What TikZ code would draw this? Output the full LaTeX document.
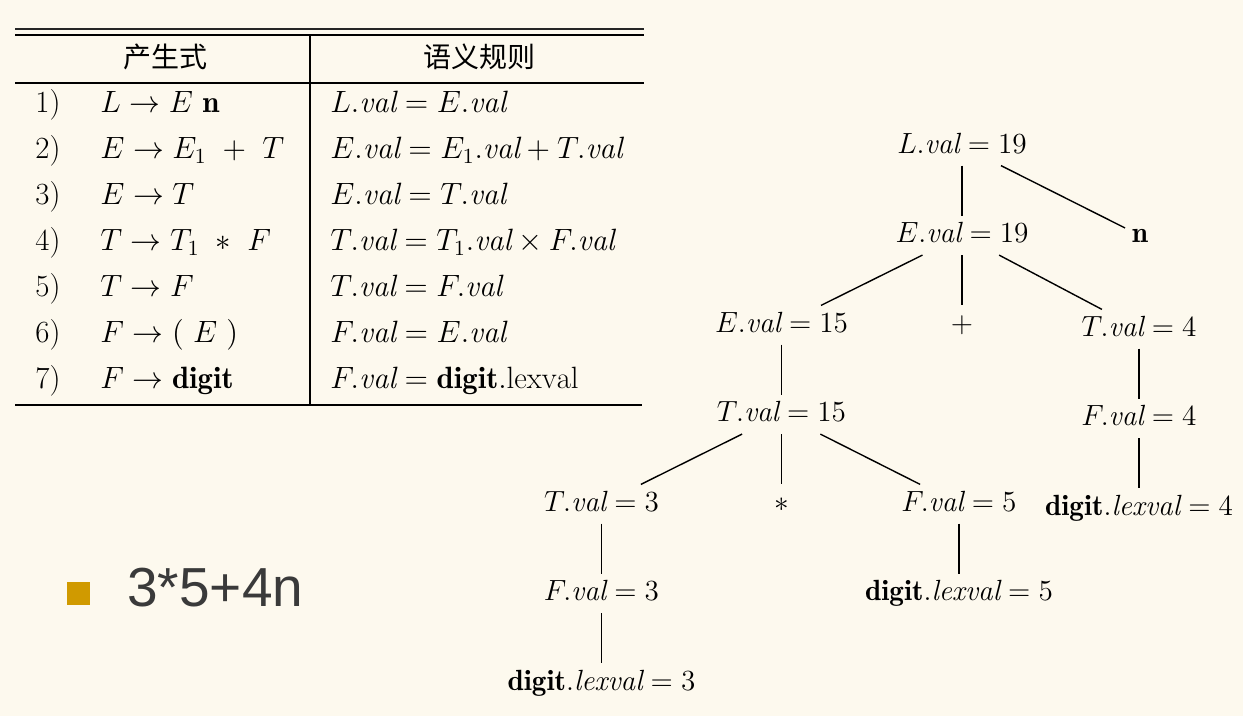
\RequirePackage{fix-cm}
\documentclass[tikz,border=0pt]{standalone}
\usepackage{amsmath}
\usepackage{amssymb}
\usepackage{fontspec}
\newfontfamily\cjk{Noto Sans CJK SC}
\newfontfamily\sansexpr{Liberation Sans}
\usepackage{tikz}
\definecolor{bgcream}{RGB}{253,249,238}
\definecolor{bulletgold}{RGB}{208,154,0}
\definecolor{exprgray}{RGB}{58,58,58}
\tikzstyle{attr} = [text height=10pt, text depth=2.8pt, inner sep=3.2pt, font=\fontsize{14.6}{17}\selectfont]
\tikzstyle{branch} = [line width=0.7pt]
\tikzstyle{cell} = [anchor=base west, inner sep=0pt, font=\fontsize{15.4}{18}\selectfont]
\tikzstyle{colhead} = [inner sep=0pt, font=\cjk\fontsize{14}{16}\selectfont]
\tikzstyle{hline} = [line width=0.8pt]

\begin{document}
\begin{tikzpicture}[x=0.5pt, y=-0.5pt, node distance=44.75pt]
	\fill [bgcream] (0,0) rectangle (1243,716);
	% table of productions and rules
	\draw [line width=0.6pt, black!85] (15,29) -- (644,29);
	\draw [line width=1pt] (15,35.5) -- (644,35.5);
	\draw [hline] (15,83) -- (644,83);
	\draw [hline] (15,405) -- (642,405);
	\draw [hline] (310,35.5) -- (310,405);
	\node (prodhead) [colhead] at (165,57) {产生式};
	\node (rulehead) [colhead] at (479,57) {语义规则};
	\node (num1) [cell] at (35,113) {1)};
	\node (prod1) [cell] at (100,113) {$L \rightarrow E\ \mathbf{n}$};
	\node (sem1) [cell] at (330,113) {$L.\mathit{val} = E.\mathit{val}$};
	\node (num2) [cell] at (35,159) {2)};
	\node (prod2) [cell] at (100,159) {$E \rightarrow E_1\ +\ T$};
	\node (sem2) [cell] at (330,159) {$E.\mathit{val} = E_1.\mathit{val} + T.\mathit{val}$};
	\node (num3) [cell] at (35,205) {3)};
	\node (prod3) [cell] at (100,205) {$E \rightarrow T$};
	\node (sem3) [cell] at (330,205) {$E.\mathit{val} = T.\mathit{val}$};
	\node (num4) [cell] at (35,251) {4)};
	\node (prod4) [cell] at (100,251) {$T \rightarrow T_1\ \ast\ F$};
	\node (sem4) [cell] at (330,251) {$T.\mathit{val} = T_1.\mathit{val} \times F.\mathit{val}$};
	\node (num5) [cell] at (35,297) {5)};
	\node (prod5) [cell] at (100,297) {$T \rightarrow F$};
	\node (sem5) [cell] at (330,297) {$T.\mathit{val} = F.\mathit{val}$};
	\node (num6) [cell] at (35,343) {6)};
	\node (prod6) [cell] at (100,343) {$F \rightarrow (\ E\ )$};
	\node (sem6) [cell] at (330,343) {$F.\mathit{val} = E.\mathit{val}$};
	\node (num7) [cell] at (35,389) {7)};
	\node (prod7) [cell] at (100,389) {$F \rightarrow \mathbf{digit}$};
	\node (sem7) [cell] at (330,389) {$F.\mathit{val} = \mathbf{digit}.\mathrm{lexval}$};
	% input string
	\node (bullet) [fill=bulletgold, minimum size=11.5pt, inner sep=0pt] at (78.5,593.5) {};
	\node (expr) [anchor=base west, inner sep=0pt, text=exprgray, font=\sansexpr\fontsize{27.5}{32}\selectfont] at (127,607) {3*5+4n};
	% annotated parse tree
	\node (L19) [attr] at (962,146) {$L.\mathit{val} = 19$};
	\node (E19) [attr, below of=L19] {$E.\mathit{val} = 19$};
	\node (n) [attr, below of=L19, xshift=89pt] {$\mathbf{n}$};
	\node (E15) [attr, below of=E19, xshift=-90.25pt] {$E.\mathit{val} = 15$};
	\node (plus) [attr, below of=E19] {$+$};
	\node (T4) [attr, below of=E19, xshift=88.5pt, yshift=-2pt] {$T.\mathit{val} = 4$};
	\node (T15) [attr, below of=E15] {$T.\mathit{val} = 15$};
	\node (F4) [attr, below of=T4] {$F.\mathit{val} = 4$};
	\node (digit4) [attr, below of=F4] {$\mathbf{digit}.\mathit{lexval} = 4$};
	\node (T3) [attr, below of=T15, xshift=-90pt] {$T.\mathit{val} = 3$};
	\node (times) [attr, below of=T15] {$*$};
	\node (F5) [attr, below of=T15, xshift=88.75pt] {$F.\mathit{val} = 5$};
	\node (F3) [attr, below of=T3] {$F.\mathit{val} = 3$};
	\node (digit5) [attr, below of=F5] {$\mathbf{digit}.\mathit{lexval} = 5$};
	\node (digit3) [attr, below of=F3] {$\mathbf{digit}.\mathit{lexval} = 3$};
	\draw [branch] (L19) -- (E19);
	\draw [branch] (L19) -- (n);
	\draw [branch] (E19) -- (E15);
	\draw [branch] (E19) -- (plus);
	\draw [branch] (E19) -- (T4);
	\draw [branch] (E15) -- (T15);
	\draw [branch] (T4) -- (F4);
	\draw [branch] (F4) -- (digit4);
	\draw [branch] (T15) -- (T3);
	\draw [branch] (T15) -- (times);
	\draw [branch] (T15) -- (F5);
	\draw [branch] (T3) -- (F3);
	\draw [branch] (F3) -- (digit3);
	\draw [branch] (F5) -- (digit5);
\end{tikzpicture}
\end{document}
